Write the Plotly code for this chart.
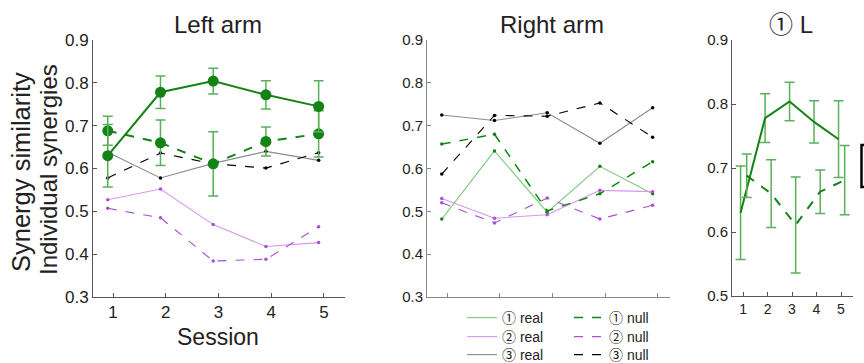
import plotly.graph_objects as go

sessions = [1, 2, 3, 4, 5]

# Left arm
left_g_real = [0.630, 0.778, 0.804, 0.772, 0.745]
left_g_real_err = [0.073, 0.038, 0.030, 0.033, 0.060]
left_g_null = [0.688, 0.660, 0.611, 0.663, 0.681]
left_g_null_err = [0.034, 0.053, 0.075, 0.034, 0.054]
left_k_real = [0.638, 0.578, 0.612, 0.640, 0.619]
left_k_null = [0.578, 0.636, 0.611, 0.601, 0.637]
left_p_real = [0.527, 0.552, 0.469, 0.418, 0.427]
left_p_null = [0.507, 0.485, 0.384, 0.388, 0.464]

# Right arm
right_g_real = [0.482, 0.641, 0.498, 0.605, 0.541]
right_g_null = [0.657, 0.680, 0.501, 0.541, 0.616]
right_k_real = [0.725, 0.712, 0.730, 0.659, 0.742]
right_k_null = [0.587, 0.724, 0.722, 0.753, 0.673]
right_p_real = [0.530, 0.484, 0.492, 0.549, 0.546]
right_p_null = [0.520, 0.473, 0.531, 0.482, 0.514]

y_ticks = [0.3, 0.4, 0.5, 0.6, 0.7, 0.8, 0.9]
y_ticks3 = [0.5, 0.6, 0.7, 0.8, 0.9]
legend_names = ["① real", "① null", "② real", "② null", "③ real", "③ null"]

FONT = "Liberation Sans, Arial, Noto Sans CJK JP, sans-serif"
DG = "rgb(20,130,20)"
EG = "rgb(90,175,90)"
LG = "rgb(125,200,125)"
GN = "rgb(10,140,10)"
PR = "rgb(215,150,235)"
PN = "rgb(170,80,210)"
GR = "rgb(140,140,140)"
BK = "rgb(0,0,0)"

xs = [s - 0.1 for s in sessions]

fig = go.Figure()


def thin(x, y, color, dash, axis, mcolor=None, width=1.1):
    fig.add_trace(go.Scatter(
        x=x, y=y, mode="lines+markers",
        line=dict(color=color, width=width, dash=dash),
        marker=dict(size=3.5, color=mcolor or color),
        xaxis="x" + axis, yaxis="y" + axis, showlegend=False))


# ---- Left panel ----
thin(xs, left_k_real, GR, "solid", "", mcolor=BK)
thin(xs, left_k_null, BK, "dash", "")
thin(xs, left_p_real, PR, "solid", "", mcolor=PN)
thin(xs, left_p_null, PN, "dash", "")

fig.add_trace(go.Scatter(
    x=xs, y=left_g_null, mode="lines+markers",
    line=dict(color=DG, width=2, dash="dash"),
    marker=dict(size=11, color=DG),
    error_y=dict(type="data", array=left_g_null_err, color=EG, thickness=1.5, width=5),
    showlegend=False))
fig.add_trace(go.Scatter(
    x=xs, y=left_g_real, mode="lines+markers",
    line=dict(color=DG, width=2),
    marker=dict(size=11, color=DG),
    error_y=dict(type="data", array=left_g_real_err, color=EG, thickness=1.5, width=5),
    showlegend=False))

# ---- Right panel ----
thin(xs, right_g_real, LG, "solid", "2", mcolor=DG)
thin(xs, right_p_real, PR, "solid", "2", mcolor=PN)
thin(xs, right_k_real, GR, "solid", "2", mcolor=BK)
thin(xs, right_g_null, GN, "dash", "2", mcolor=DG, width=1.5)
thin(xs, right_p_null, PN, "dash", "2")
thin(xs, right_k_null, BK, "dash", "2")

W, H = 864, 363


def px(x):
    return x / W


def py(y):
    return 1 - y / H


# legend entries (line samples only), one small legend per entry
leg_styles = [(LG, "solid", 1.1), (GN, "dash", 1.5),
              (PR, "solid", 1.1), (PN, "dash", 1.1),
              (GR, "solid", 1.1), (BK, "dash", 1.1)]
leg_rows = [318, 318, 337, 337, 355, 355]
leg_cols = [462, 569, 462, 569, 462, 569]
legend_layout = {}
for i, (name, (c, d, w)) in enumerate(zip(legend_names, leg_styles)):
    key = "legend" if i == 0 else f"legend{i + 1}"
    fig.add_trace(go.Scatter(x=[None], y=[None], mode="lines", name=name,
                             line=dict(color=c, dash=d, width=w),
                             xaxis="x2", yaxis="y2", legend=key))
    legend_layout[key] = dict(x=px(leg_cols[i]), y=py(leg_rows[i]), xanchor="left",
                              yanchor="middle", bgcolor="rgba(0,0,0,0)",
                              font=dict(size=14), borderwidth=0)

# ---- Third panel ----
fig.add_trace(go.Scatter(
    x=[s - 0.1 for s in sessions], y=left_g_real, mode="lines",
    line=dict(color=DG, width=2),
    error_y=dict(type="data", array=left_g_real_err, color=EG, thickness=1.5, width=5),
    xaxis="x3", yaxis="y3", showlegend=False))
fig.add_trace(go.Scatter(
    x=[s + 0.15 for s in sessions], y=left_g_null, mode="lines",
    line=dict(color=DG, width=2, dash="dash"),
    error_y=dict(type="data", array=left_g_null_err, color=EG, thickness=1.5, width=5),
    xaxis="x3", yaxis="y3", showlegend=False))

common_x = dict(tickvals=sessions, ticks="inside", ticklen=4, showline=True,
                showgrid=False, zeroline=False, linewidth=1, automargin=False)
common_y = dict(ticks="inside", ticklen=4, showline=True, showgrid=False,
                zeroline=False, linewidth=1, tickformat=".1f", automargin=False)

fig.update_layout(
    width=W, height=H, margin=dict(l=0, r=0, t=0, b=0, autoexpand=False),
    paper_bgcolor="white", plot_bgcolor="white",
    font=dict(family=FONT, color="#222"),
    xaxis=dict(domain=[px(93), px(345)], range=[0.62, 5.4], linecolor="#555",
               tickcolor="#555", tickfont=dict(size=17), anchor="y", **common_x),
    yaxis=dict(domain=[py(297), py(40)], range=[0.3, 0.9], tickvals=y_ticks,
               linecolor="#555", tickcolor="#555", tickfont=dict(size=17), anchor="x", **common_y),
    xaxis2=dict(domain=[px(427), px(670)], range=[0.62, 5.23], linecolor="#888",
                tickcolor="#888", showticklabels=False, anchor="y2", **common_x),
    yaxis2=dict(domain=[py(297), py(40)], range=[0.3, 0.9], tickvals=y_ticks,
                linecolor="#888", tickcolor="#888", tickfont=dict(size=15), anchor="x2", **common_y),
    xaxis3=dict(domain=[px(732), px(853)], range=[0.55, 5.49], linecolor="#555",
                tickcolor="#555", tickfont=dict(size=14), anchor="y3", **common_x),
    yaxis3=dict(domain=[py(296), py(40)], range=[0.5, 0.9], tickvals=y_ticks3,
                linecolor="#555", tickcolor="#555", tickfont=dict(size=15), anchor="x3", **common_y),
    **legend_layout,
)

ann = [
    dict(text="Left arm", x=px(218), y=py(24), font=dict(size=24)),
    dict(text="Right arm", x=px(552), y=py(24), font=dict(size=24)),
    dict(text="① L", x=px(791), y=py(24), font=dict(size=24)),
    dict(text="Session", x=px(218), y=py(337), font=dict(size=23)),
    dict(text="Synergy similarity", x=px(21), y=py(172), font=dict(size=25.5), textangle=-90),
    dict(text="Individual synergies", x=px(48), y=py(170), font=dict(size=24), textangle=-90),
]
for a in ann:
    fig.add_annotation(xref="paper", yref="paper", showarrow=False,
                       xanchor="center", yanchor="middle", **a)

fig.add_shape(type="path", xref="paper", yref="paper",
              path=f"M {px(864)} {py(145)} L {px(861.5)} {py(145)} L {px(861.5)} {py(187)} L {px(864)} {py(187)}",
              line=dict(color="black", width=2.5))

fig.write_html("out.html")
